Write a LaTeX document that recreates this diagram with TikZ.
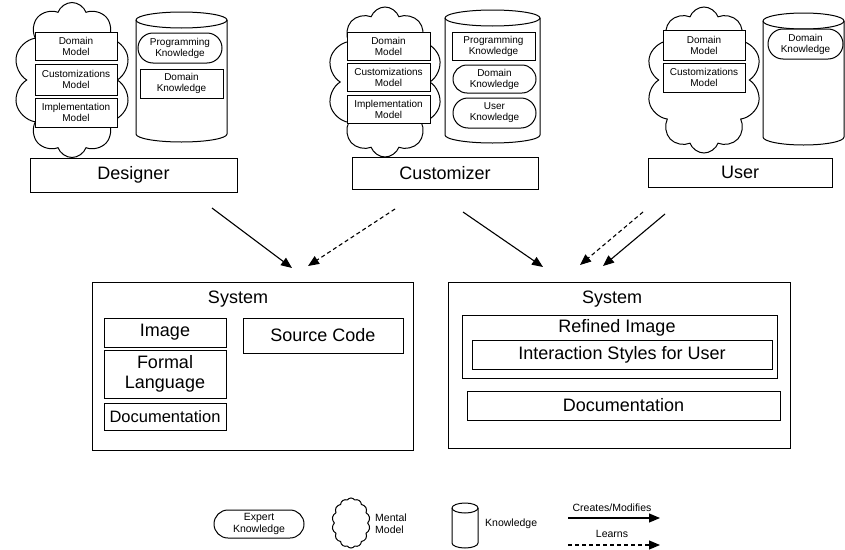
\documentclass[tikz,border=0pt]{standalone}
\usepackage{fontspec}
\setmainfont{Liberation Sans}
\usetikzlibrary{shapes.symbols,shapes.misc,arrows.meta}
\tikzset{
 ln/.style={line width=1pt},
 bx/.style={draw, ln, fill=white, inner sep=0pt, align=center},
 sm/.style={font=\fontsize{10}{11}\selectfont},
 lgf/.style={font=\fontsize{18}{20}\selectfont},
 legf/.style={font=\fontsize{10.5}{12}\selectfont},
 ov/.style={bx, rounded rectangle},
 mind/.style={cloud, cloud puffs=10, cloud puff arc=140, cloud ignores aspect, draw, ln, inner sep=0pt},
 arr/.style={line width=1.1pt, -{Triangle[length=11pt,width=9pt]}},
 darr/.style={arr, dash pattern=on 4pt off 3pt},
}
\newcommand\knowcyl[6]{% name,left,right,top,bottom,ry
 \pgfmathsetmacro\cylcx{(#2+#3)/2}%
 \pgfmathsetmacro\cylrx{(#3-#2)/2}%
 \pgfmathsetmacro\cylt{#4+#6}%
 \pgfmathsetmacro\cylb{#5-#6}%
 \draw[ln, fill=white] (#2,\cylt) -- (#2,\cylb) arc[start angle=180, end angle=0, x radius=\cylrx, y radius=#6] -- (#3,\cylt) arc[start angle=0, end angle=-180, x radius=\cylrx, y radius=#6] -- cycle;
 \draw[ln] (#2,\cylt) arc[start angle=180, end angle=0, x radius=\cylrx, y radius=#6];
 \coordinate (#1) at (\cylcx,{(#4+#5)/2});
}
\begin{document}
\begin{tikzpicture}[x=1pt,y=-1pt]
\useasboundingbox[fill=white] (0,0) rectangle (845,549);

% ---------- Designer ----------
\node[mind, minimum width=117pt, minimum height=155pt] (dcl) at (72,80) {};
\node[bx, sm, minimum width=82pt, minimum height=28pt] (ddm) at (76,46) {Domain\\Model};
\node[bx, sm, minimum width=82pt, minimum height=31pt] (ddc) at (76,79.5) {Customizations\\Model};
\node[bx, sm, minimum width=82pt, minimum height=29pt] (ddi) at (76,112.5) {Implementation\\Model};
\knowcyl{dcy}{136}{227}{12}{142}{8}
\node[ov, sm, minimum width=84pt, minimum height=30pt] (dpk) at (180,48) {Programming\\Knowledge};
\node[bx, sm, minimum width=83pt, minimum height=29pt] (ddk) at (181.5,83.5) {Domain\\Knowledge};
\node[bx, lgf, minimum width=207pt, minimum height=34pt] (designer) at (133.5,175) {Designer};

% ---------- Customizer ----------
\node[mind, minimum width=115pt, minimum height=150pt] (ccl) at (385,82) {};
\node[bx, sm, minimum width=83pt, minimum height=28pt] (cdm) at (388.5,46) {Domain\\Model};
\node[bx, sm, minimum width=83pt, minimum height=28pt] (ccm) at (388.5,77) {Customizations\\Model};
\node[bx, sm, minimum width=83pt, minimum height=28pt] (cim) at (388.5,109) {Implementation\\Model};
\knowcyl{ccy}{445}{540}{10}{143}{8}
\node[bx, sm, minimum width=83pt, minimum height=28pt] (cpk) at (493.5,46) {Programming\\Knowledge};
\node[ov, sm, minimum width=83pt, minimum height=28pt] (cdk) at (494.5,79) {Domain\\Knowledge};
\node[ov, sm, minimum width=83pt, minimum height=30pt] (cuk) at (494.5,113) {User\\Knowledge};
\node[bx, lgf, minimum width=186pt, minimum height=32pt] (customizer) at (445,173) {Customizer};

% ---------- User ----------
\node[mind, minimum width=115pt, minimum height=146pt] (ucl) at (704,80) {};
\node[bx, sm, minimum width=82pt, minimum height=30pt] (udm) at (704,45) {Domain\\Model};
\node[bx, sm, minimum width=82pt, minimum height=29pt] (ucm) at (704,77.5) {Customizations\\Model};
\knowcyl{ucy}{763}{844}{13}{145}{8}
\node[ov, sm, minimum width=75pt, minimum height=30pt] (udk) at (805.5,44) {Domain\\Knowledge};
\node[bx, lgf, minimum width=184pt, minimum height=29pt] (user) at (740,172.5) {User};

% ---------- Left system ----------
\node[bx, minimum width=321pt, minimum height=168pt] (sys1) at (252.5,366) {};
\node[lgf] (sys1t) at (238,299) {System};
\node[bx, lgf, minimum width=122pt, minimum height=29pt] (img) at (165,332.5) {Image};
\node[bx, lgf, minimum width=122pt, minimum height=48pt] (fl) at (165,374) {Formal\\Language};
\node[bx, font=\fontsize{16.5}{18}\selectfont, minimum width=122pt, minimum height=27pt] (doc1) at (165,416.5) {Documentation};
\node[bx, lgf, minimum width=160pt, minimum height=35pt] (src) at (323,335.5) {Source Code};

% ---------- Right system ----------
\node[bx, minimum width=342pt, minimum height=166pt] (sys2) at (619,365) {};
\node[lgf] (sys2t) at (612,299) {System};
\node[bx, minimum width=315pt, minimum height=63pt] (ref) at (619.5,346.5) {};
\node[lgf] (reft) at (617,328) {Refined Image};
\node[bx, lgf, minimum width=300pt, minimum height=29pt] (isu) at (622,354.5) {Interaction Styles for User};
\node[bx, lgf, minimum width=313pt, minimum height=29pt] (doc2) at (623.5,405.5) {Documentation};

% ---------- Arrows ----------
\coordinate (a1s) at (212,208); \coordinate (a1e) at (292,268);
\coordinate (a2s) at (395,209); \coordinate (a2e) at (308,266);
\coordinate (a3s) at (463,212); \coordinate (a3e) at (543,267);
\coordinate (a4s) at (643,212); \coordinate (a4e) at (580,265);
\coordinate (a5s) at (665,214); \coordinate (a5e) at (603,266);
\draw[arr] (a1s) -- (a1e);
\draw[darr] (a2s) -- (a2e);
\draw[arr] (a3s) -- (a3e);
\draw[darr] (a4s) -- (a4e);
\draw[arr] (a5s) -- (a5e);

% ---------- Legend ----------
\node[ov, legf, minimum width=90pt, minimum height=28pt] (lek) at (259,524) {Expert\\Knowledge};
\node[mind, cloud puffs=14, cloud puff arc=110, minimum width=38pt, minimum height=50pt] (lmm) at (351,523) {};
\node[legf, anchor=west, align=left, inner sep=0pt] (lmmt) at (375,524) {Mental\\Model};
\knowcyl{lkc}{452}{478}{503}{548}{5}
\node[legf, anchor=west, inner sep=0pt] (lkt) at (485,524) {Knowledge};
\coordinate (l1s) at (568,518); \coordinate (l1e) at (660,518);
\coordinate (l2s) at (568,545); \coordinate (l2e) at (660,545);
\draw[arr] (l1s) -- (l1e);
\draw[darr] (l2s) -- (l2e);
\node[legf] (l1t) at (612,508) {Creates/Modifies};
\node[legf] (l2t) at (612,534) {Learns};
\end{tikzpicture}
\end{document}
